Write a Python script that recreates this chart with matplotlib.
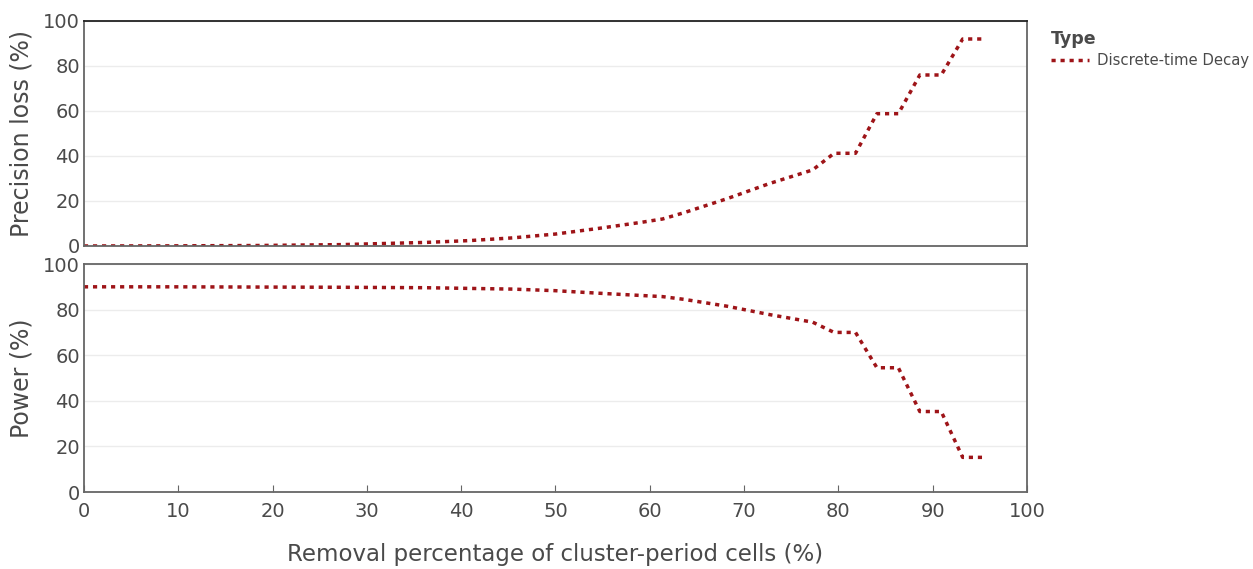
import numpy as np
import matplotlib.pyplot as plt

# removal steps: k out of 44 cluster-period cells
k = [0, 4, 8, 12, 16, 18, 20, 22, 24, 26, 27, 28, 30, 32, 34, 35, 36, 37, 38, 39, 40, 41, 42]
removal = [i * 100 / 44 for i in k]

precision_loss = [0.0, 0.05, 0.2, 0.6, 1.6, 2.4, 3.6, 5.3, 7.8, 10.5, 12.0, 14.8, 21.0, 27.8,
                  33.8, 41.2, 41.2, 58.8, 58.8, 76.0, 76.0, 92.0, 92.0]
power = [90.0, 90.0, 89.9, 89.8, 89.6, 89.3, 89.0, 88.3, 87.2, 86.2, 85.7, 84.5, 81.5, 77.8,
         74.5, 70.0, 70.0, 54.5, 54.5, 35.3, 35.3, 15.2, 15.2]

series_name = "Discrete-time Decay"
line_color = "#9e1418"
tick_color = "#4a4a4a"

fig = plt.figure(figsize=(12.53, 5.69), dpi=100)
ax1 = fig.add_axes([0.0670, 0.5677, 0.7526, 0.3954])
ax2 = fig.add_axes([0.0670, 0.1353, 0.7526, 0.4007])

for ax, y, label in [(ax1, precision_loss, "Precision loss (%)"), (ax2, power, "Power (%)")]:
    ln, = ax.plot(removal, y, color=line_color, lw=2.5, linestyle=(0, (1.2, 1.4)),
                  dash_capstyle="butt", label=series_name)
    ax.set_xlim(0, 100)
    ax.set_ylim(0, 100)
    ax.set_yticks([0, 20, 40, 60, 80, 100])
    ax.set_xticks(range(0, 101, 10))
    ax.grid(axis="y", color="#ececec", lw=1)
    ax.set_axisbelow(True)
    for s in ax.spines.values():
        s.set_color("#666666")
        s.set_linewidth(1.3)
    ax.tick_params(axis="y", length=0, labelsize=14, labelcolor=tick_color, pad=3)
    ax.set_ylabel(label, fontsize=17, color=tick_color, labelpad=7)

ax1.spines["top"].set_color("#222222")
ax1.tick_params(axis="x", length=0, labelbottom=False)
ax2.tick_params(axis="x", direction="in", length=5, color="#666666", labelsize=14,
                labelcolor=tick_color, pad=7)
ax2.set_xlabel("Removal percentage of cluster-period cells (%)", fontsize=16.5,
               color=tick_color, labelpad=16)

leg = fig.legend(handles=[ln], loc="upper left", bbox_to_anchor=(0.828, 0.97),
                 frameon=False, title="Type", fontsize=10.7, handlelength=2.6,
                 handletextpad=0.5, alignment="left", labelspacing=0.3)
leg.get_title().set_fontweight("bold")
leg.get_title().set_fontsize(12.5)
leg.get_title().set_color(tick_color)
for t in leg.get_texts():
    t.set_color(tick_color)

fig.savefig("out.png", dpi=100)
